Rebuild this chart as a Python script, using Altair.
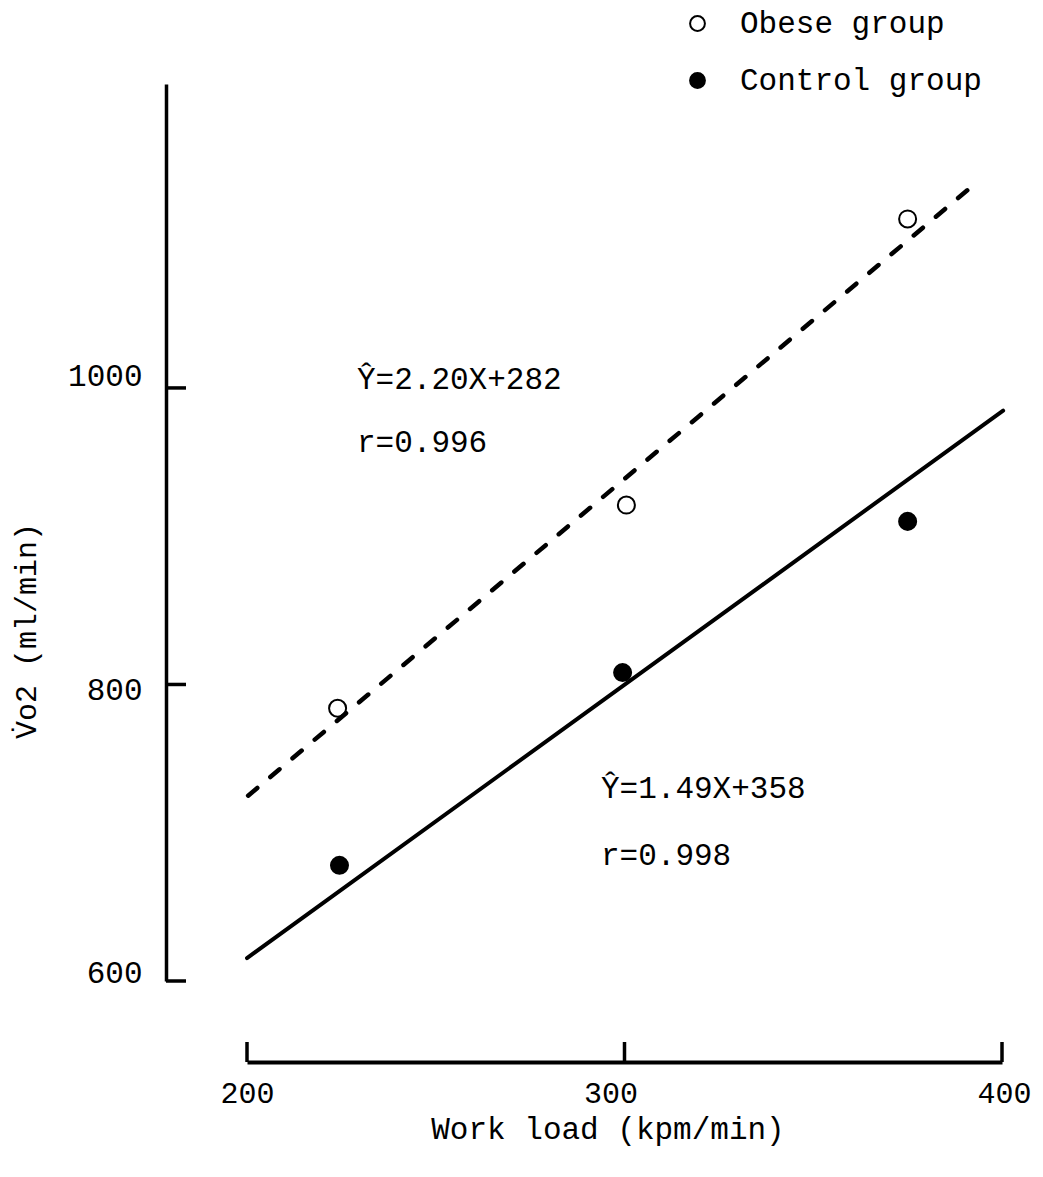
import altair as alt
import pandas as pd

FONT = "Liberation Mono"
FS = 31

groups = ["Obese group", "Control group"]

# measured data points (work load kpm/min, VO2 ml/min)
obese_workload = [224, 300.5, 375]
obese_vo2 = [784, 921, 1114]
control_workload = [224.5, 299.5, 375]
control_vo2 = [678, 808, 910]

# regression lines as drawn (end points)
obese_line_x = [200.3, 393]
obese_line_y = [725, 1138]
control_line_x = [200, 400.3]
control_line_y = [615.5, 984.7]

x_ticks = [200, 300, 400]
y_ticks = [600, 800, 1000]

eq_obese = ["Ŷ=2.20X+282", "r=0.996"]
eq_control = ["Ŷ=1.49X+358", "r=0.998"]

x_title = "Work load (kpm/min)"
y_title = "V̇o2 (ml/min)"

pts = pd.DataFrame({
    "group": [groups[0]] * 3 + [groups[1]] * 3,
    "workload": obese_workload + control_workload,
    "vo2": obese_vo2 + control_vo2,
})
obese_line = pd.DataFrame({"workload": obese_line_x, "vo2": obese_line_y})
control_line = pd.DataFrame({"workload": control_line_x, "vo2": control_line_y})

xscale = alt.Scale(domain=[200, 400], nice=False, zero=False)
yscale = alt.Scale(domain=[600, 1205], nice=False, zero=False)

x_axis = alt.Axis(
    values=x_ticks, format="d", offset=81, ticks=False, grid=False,
    domainColor="black", domainWidth=4,
    labelFont=FONT, labelFontSize=30, labelColor="black", labelFlush=False,
    labelBaseline="middle", labelAlign="center", labelPadding=31,
    labelOffset={"condition": [{"test": "datum.value == 300", "value": -14},
                               {"test": "datum.value == 400", "value": 2}],
                 "value": 0},
    title=None,
)
y_axis = alt.Axis(
    values=y_ticks, format="d", offset=81, ticks=False, grid=False,
    domainColor="black", domainWidth=3.5,
    labelFont=FONT, labelFontSize=FS, labelColor="black",
    labelBaseline="middle", labelAlign="right", labelPadding=24,
    labelOffset={"condition": [{"test": "datum.value == 1000", "value": -11},
                               {"test": "datum.value == 800", "value": 6}],
                 "value": -8},
    title=None,
)

X = alt.X("workload:Q", scale=xscale, axis=x_axis)
Y = alt.Y("vo2:Q", scale=yscale, axis=y_axis)

points = alt.Chart(pts).mark_point(
    shape="circle", filled=True, size=290, stroke="black", strokeWidth=2, opacity=1
).encode(
    x=X,
    y=Y,
    fill=alt.Fill(
        "group:N",
        scale=alt.Scale(domain=groups, range=["white", "black"]),
        legend=alt.Legend(
            orient="none", legendX=435, legendY=-76, title=None, padding=0,
            labelFont=FONT, labelFontSize=FS, labelColor="black", labelLimit=0,
            symbolType="circle", symbolSize=220, symbolStrokeColor="black",
            symbolStrokeWidth=2, symbolOpacity=1, rowPadding=25, labelOffset=27,
        ),
    ),
)

dashed = alt.Chart(obese_line).mark_line(
    color="black", strokeWidth=4.5, strokeDash=[12, 17], strokeCap="round"
).encode(x=X, y=Y)
solid = alt.Chart(control_line).mark_line(
    color="black", strokeWidth=4, strokeCap="round"
).encode(x=X, y=Y)

ytick_rules = alt.Chart(pd.DataFrame({"vo2": y_ticks})).mark_rule(
    color="black", strokeWidth=3.5
).encode(
    y=Y,
    x=alt.value(-81), x2=alt.value(-61),
)
xtick_rules = alt.Chart(pd.DataFrame({"workload": x_ticks})).mark_rule(
    color="black", strokeWidth=3.5
).encode(
    x=X,
    y=alt.value(978), y2=alt.value(958),
)


def label(text, px, py, align="left", angle=0, size=FS):
    return alt.Chart(pd.DataFrame({"t": [text]})).mark_text(
        font=FONT, fontSize=size, align=align, baseline="alphabetic",
        color="black", angle=angle,
    ).encode(text="t:N", x=alt.value(px), y=alt.value(py))


texts = [
    label(eq_obese[0], 110, 305),
    label(eq_obese[1], 110, 368),
    label(eq_control[0], 354, 714),
    label(eq_control[1], 354, 781),
    label(x_title, 361, 1055, align="center"),
    label(y_title, -211, 547, align="center", angle=270, size=30),
]

chart = alt.layer(
    points, dashed, solid, ytick_rules, xtick_rules, *texts
).properties(
    width=755, height=897,
    autosize=alt.AutoSizeParams(type="none"),
    padding={"left": 239, "top": 76, "right": 33, "bottom": 180},
    background="white",
).configure_view(stroke=None)

chart.save("out.html", embed_options={"renderer": "svg", "actions": False})
